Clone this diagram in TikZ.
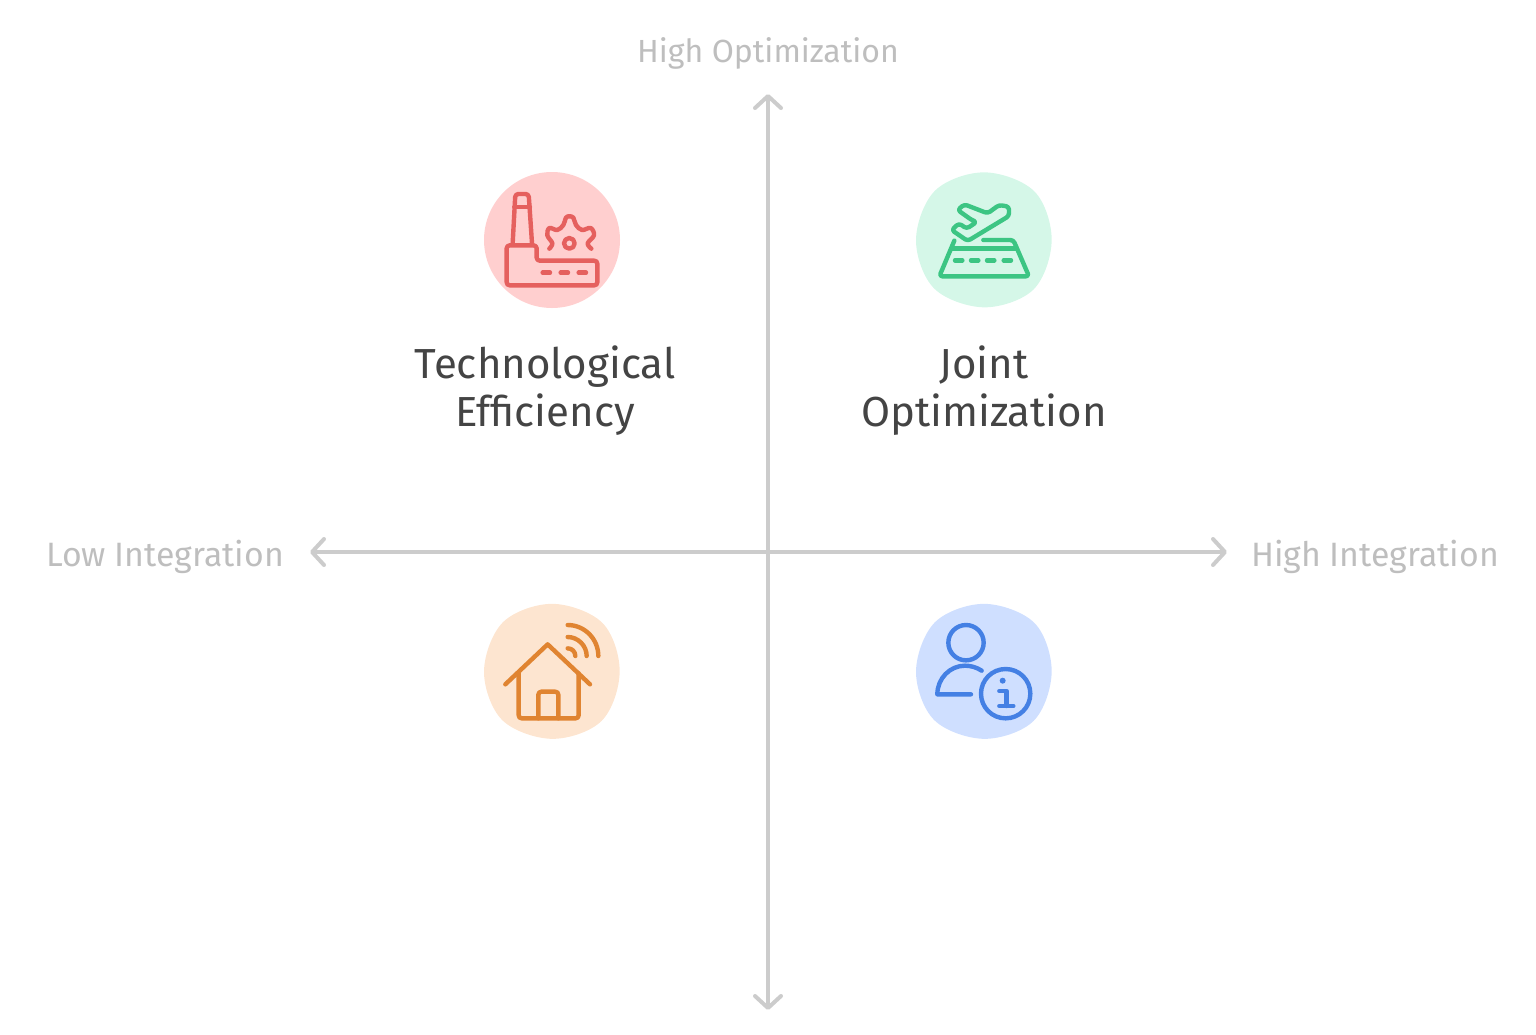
\documentclass[tikz,border=0pt]{standalone}
\usepackage{fontspec}
\setmainfont{Fira Sans}
\usepackage{tikz}
\usetikzlibrary{
  arrows.meta,
  positioning
}
\definecolor{axisgray}{RGB}{204,204,204}
\definecolor{axistext}{RGB}{190,190,190}
\definecolor{titletext}{RGB}{68,68,68}
\definecolor{redfill}{RGB}{255,207,207}
\definecolor{redline}{RGB}{229,96,94}
\definecolor{greenfill}{RGB}{213,247,232}
\definecolor{greenline}{RGB}{60,197,131}
\definecolor{orangefill}{RGB}{253,229,208}
\definecolor{orangeline}{RGB}{224,132,49}
\definecolor{bluefill}{RGB}{207,223,255}
\definecolor{blueline}{RGB}{68,128,228}
\tikzset{
  axisline/.style={{Straight Barb[length=6pt,width=13pt,round]}-{Straight Barb[length=6pt,width=13pt,round]},
    line width=2pt, axisgray, line cap=round},
  axislabel/.style={font=\fontsize{16}{18}\selectfont, text=axistext, inner sep=0pt},
  sidelabel/.style={font=\fontsize{16.9}{18}\selectfont, text=axistext, inner sep=0pt},
  titlelabel/.style={font=\fontsize{21}{24}\selectfont, text=titletext, align=center, inner sep=0pt},
  iconline/.style={line width=2.2pt, line cap=round, line join=round, rounded corners=1.5pt},
  iconstroke/.style={line width=2.2pt, line cap=round, line join=round},
}
\newcommand{\blobpath}{plot[smooth cycle,tension=0.58] coordinates {(33,240)(90,92)(238,37)(388,94)(440,240)(386,388)(238,442)(88,386)}}

\begin{document}
\begin{tikzpicture}[x=0.5pt,y=-0.5pt]
  \useasboundingbox (0,0) rectangle (1536,1034);

  % Axes
  \coordinate (top) at (768,94);
  \coordinate (bottom) at (768,1010);
  \coordinate (left) at (310,552);
  \coordinate (right) at (1227,552);
  \draw[axisline] (bottom) -- (top);
  \draw[axisline] (left) -- (right);

  \node[axislabel] (highopt) at (768,53) {High Optimization};
  \node[sidelabel] (lowint) at (165,557) {Low Integration};
  \node[sidelabel] (highint) at (1375,557) {High Integration};

  % Top left: factory
  \fill[redfill] (552,240) circle[radius=68];
  \begin{scope}[shift={(470,160)},scale=1/3,redline]
    \draw[iconline] (128,250) -- (136,102) -- (176,102) -- (186,250);
    \draw[iconline] (133,141) -- (180,141);
    \draw[iconline] (110,376) -- (110,256) -- (200,256) -- (200,302) -- (382,302) -- (382,376) -- cycle;
    \foreach \x in {218,272,326}
      \draw[iconstroke] (\x,338) -- ++(22,0);
    \draw[iconstroke] (298,250) circle[radius=16];
    \draw[iconstroke] plot[smooth,tension=0.6] coordinates
      {(238,266)(247,250)(232,226)(238,204)(262,210)(280,195)(288,173)(298,169)(310,173)(318,195)(336,210)(362,204)(372,226)(353,250)(364,266)};
  \end{scope}

  % Top right: runway
  \fill[greenfill, shift={(905,160)}, scale=1/3] \blobpath;
  \begin{scope}[shift={(905,160)},scale=1/3,greenline]
    \draw[iconline] (248,160) -- (178,133) -- (158,150) -- (200,180) -- (215,186) -- (185,206) -- (162,190) -- (140,210) -- (188,243) -- (312,168) -- (312,140) -- (282,135) -- cycle;
    \draw[iconline] (148,242) -- (103,349) -- (372,349) -- (325,240) -- (235,240);
    \draw[iconline] (140,266) -- (332,266);
    \foreach \x in {150,198,246,296}
      \draw[iconstroke] (\x,301) -- ++(22,0);
  \end{scope}

  \node[titlelabel] (techeff) at (545,391) {Technological\\Efficiency};
  \node[titlelabel] (jointopt) at (984,391) {Joint\\Optimization};

  % Bottom left: house
  \fill[orangefill, shift={(473,591.5)}, scale=1/3] \blobpath;
  \begin{scope}[shift={(470,590)},scale=1/3,orangeline]
    \draw[iconstroke] (106,283) -- (233,163) -- (360,283);
    \draw[iconline] (146,250) -- (146,385) -- (326,385) -- (326,250);
    \draw[iconline] (205,385) -- (205,305) -- (265,305) -- (265,385);
    \draw[iconstroke] (293,105) .. controls (344,105) and (385,147) .. (385,198);
    \draw[iconstroke] (293,141) .. controls (324,141) and (350,167) .. (350,198);
    \draw[iconstroke] (293,175) .. controls (306,175) and (316,185) .. (316,198);
  \end{scope}

  % Bottom right: user info
  \fill[bluefill, shift={(905,591.5)}, scale=1/3] \blobpath;
  \begin{scope}[shift={(905,590)},scale=1/3,blueline]
    \draw[iconstroke] (183,158) circle[radius=53];
    \draw[iconstroke] (198,313) -- (97,313) .. controls (97,265) and (135,227) .. (180,227) .. controls (197,227) and (215,232) .. (230,242);
    \draw[iconstroke] (302,311) circle[radius=74];
    \fill (293,272) circle[radius=9];
    \draw[iconstroke] (283,303) -- (305,303) -- (305,348);
    \draw[iconstroke] (283,348) -- (325,348);
  \end{scope}
\end{tikzpicture}
\end{document}
